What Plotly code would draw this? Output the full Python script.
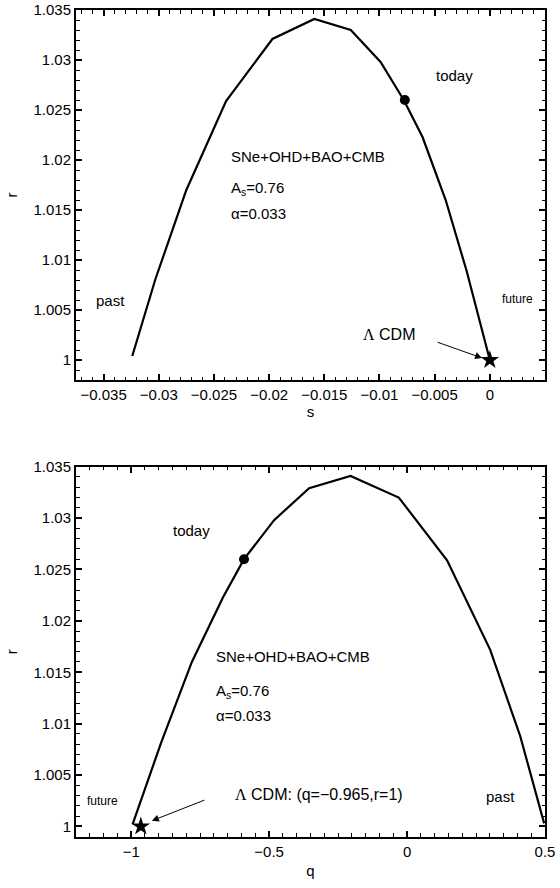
import plotly.graph_objects as go

# ---------------- data ----------------
# top panel: r versus s
s_vals = [-0.0324, -0.0303, -0.0275, -0.0239, -0.0197, -0.0159, -0.0126,
          -0.0099, -0.0078, -0.0061, -0.0040, -0.0021, 0.0]
r_s_vals = [1.0004, 1.0081, 1.0170, 1.0259, 1.0321, 1.0341, 1.0330,
            1.0298, 1.0260, 1.0223, 1.0160, 1.0089, 1.0000]
today_s = [-0.0077]
today_r_s = [1.026]
lcdm_s = [0.0]
lcdm_r_s = [1.0]

# bottom panel: r versus q
q_vals = [0.497, 0.410, 0.301, 0.145, -0.030, -0.205, -0.355, -0.482,
          -0.591, -0.667, -0.780, -0.892, -0.995]
r_q_vals = [1.0003, 1.0088, 1.0172, 1.0259, 1.0320, 1.0341, 1.0329,
            1.0298, 1.0260, 1.0223, 1.0160, 1.0081, 1.0002]
today_q = [-0.591]
today_r_q = [1.026]
lcdm_q = [-0.965]
lcdm_r_q = [1.0]

# tick labels
s_ticks = [-0.035, -0.03, -0.025, -0.02, -0.015, -0.01, -0.005, 0]
s_ticktext = ["\u22120.035", "\u22120.03", "\u22120.025", "\u22120.02",
              "\u22120.015", "\u22120.01", "\u22120.005", "0"]
q_ticks = [-1, -0.5, 0, 0.5]
q_ticktext = ["\u22121", "\u22120.5", "0", "0.5"]
r_ticks = [1, 1.005, 1.01, 1.015, 1.02, 1.025, 1.03, 1.035]
r_ticktext = ["1", "1.005", "1.01", "1.015", "1.02", "1.025", "1.03", "1.035"]

# minor tick positions
s_minor = [round(-0.037 + 0.001 * i, 4) for i in range(42)]
q_minor = [round(-1.2 + 0.05 * i, 3) for i in range(35)]
r_minor = [round(0.998 + 0.001 * i, 4) for i in range(38)]

# ---------------- figure ----------------
FONT = "Liberation Sans, Arial, sans-serif"
fig = go.Figure()

line_style = dict(color="black", width=2.2)
fig.add_trace(go.Scatter(x=s_vals, y=r_s_vals, mode="lines", line=line_style,
                         xaxis="x", yaxis="y", showlegend=False))
fig.add_trace(go.Scatter(x=today_s, y=today_r_s, mode="markers",
                         marker=dict(symbol="circle", size=10, color="black"),
                         xaxis="x", yaxis="y", showlegend=False))
fig.add_trace(go.Scatter(x=lcdm_s, y=lcdm_r_s, mode="markers",
                         marker=dict(symbol="star", size=14, color="black"),
                         xaxis="x", yaxis="y", showlegend=False))

fig.add_trace(go.Scatter(x=q_vals, y=r_q_vals, mode="lines", line=line_style,
                         xaxis="x2", yaxis="y2", showlegend=False))
fig.add_trace(go.Scatter(x=today_q, y=today_r_q, mode="markers",
                         marker=dict(symbol="circle", size=10, color="black"),
                         xaxis="x2", yaxis="y2", showlegend=False))
fig.add_trace(go.Scatter(x=lcdm_q, y=lcdm_r_q, mode="markers",
                         marker=dict(symbol="star", size=14, color="black"),
                         xaxis="x2", yaxis="y2", showlegend=False))

W, H = 560, 888
xl, xr = 76 / W, 545 / W
top_dom = [1 - 380 / H, 1 - 10 / H]
bot_dom = [1 - 836.7 / H, 1 - 466.7 / H]


def axis(domain, rng, anchor, vals, text, minor_vals, title, standoff):
    return dict(
        domain=domain, range=rng, anchor=anchor,
        showline=True, linecolor="black", linewidth=2, mirror="allticks",
        ticks="inside", ticklen=6, tickwidth=1.5, tickcolor="black",
        tickmode="array", tickvals=vals, ticktext=text,
        showgrid=False, zeroline=False,
        tickfont=dict(family=FONT, size=15, color="black"),
        minor=dict(tickmode="array", tickvals=minor_vals, ticks="inside",
                   ticklen=3.5, tickwidth=1.2, tickcolor="black", showgrid=False),
        title=dict(text=title, standoff=standoff, font=dict(family=FONT, size=15)),
    )


fig.update_layout(
    template="none",
    width=W, height=H,
    margin=dict(l=0, r=0, t=0, b=0),
    paper_bgcolor="white", plot_bgcolor="white",
    font=dict(family=FONT, size=15, color="black"),
    xaxis=axis([xl, xr], [-0.0375, 0.005], "y", s_ticks, s_ticktext, s_minor, "s", 2),
    yaxis=axis(top_dom, [0.998, 1.035], "x", r_ticks, r_ticktext, r_minor, "r", 12),
    xaxis2=axis([xl, xr], [-1.2, 0.5], "y2", q_ticks, q_ticktext, q_minor, "q", 7),
    yaxis2=axis(bot_dom, [0.999, 1.035], "x2", r_ticks, r_ticktext, r_minor, "r", 12),
)

LAM = "<span style='font-family:Liberation Serif'>\u039b</span>"


def txt(x, y, text, xref, yref, size=15, xanchor="center"):
    fig.add_annotation(x=x, y=y, xref=xref, yref=yref, text=text, showarrow=False,
                       xanchor=xanchor, yanchor="middle",
                       font=dict(family=FONT, size=size, color="black"))


# top panel texts
txt(-0.0032, 1.0285, "today", "x", "y")
txt(-0.0236, 1.0204, "SNe+OHD+BAO+CMB", "x", "y", xanchor="left")
txt(-0.0236, 1.0172, "A<sub>s</sub>=0.76", "x", "y", xanchor="left")
txt(-0.0236, 1.0147, "\u03b1=0.033", "x", "y", xanchor="left")
txt(-0.0344, 1.006, "past", "x", "y")
txt(0.0025, 1.0061, "future", "x", "y", size=12)
txt(-0.0091, 1.0026, LAM + " CDM", "x", "y", size=16)
fig.add_annotation(x=-0.0007, y=1.0002, xref="x", yref="y", ax=-48, ay=-17,
                   text=" ", showarrow=True, arrowhead=2, arrowsize=1.4,
                   arrowwidth=1, arrowcolor="black")

# bottom panel texts
txt(-0.783, 1.0288, "today", "x2", "y2")
txt(-0.70, 1.0165, "SNe+OHD+BAO+CMB", "x2", "y2", xanchor="left")
txt(-0.70, 1.0131, "A<sub>s</sub>=0.76", "x2", "y2", xanchor="left")
txt(-0.70, 1.0108, "\u03b1=0.033", "x2", "y2", xanchor="left")
txt(-0.318, 1.0031, LAM + " CDM: (q=\u22120.965,r=1)", "x2", "y2", size=16)
txt(-1.105, 1.0025, "future", "x2", "y2", size=12)
txt(0.337, 1.0029, "past", "x2", "y2")
fig.add_annotation(x=-0.925, y=1.00055, xref="x2", yref="y2", ax=56, ay=-22,
                   text=" ", showarrow=True, arrowhead=2, arrowsize=1.4,
                   arrowwidth=1, arrowcolor="black")

fig.write_html("out.html",
               config={"displayModeBar": False},
               post_script="document.body.style.margin='0px';"
                           "document.body.style.overflow='hidden';")
